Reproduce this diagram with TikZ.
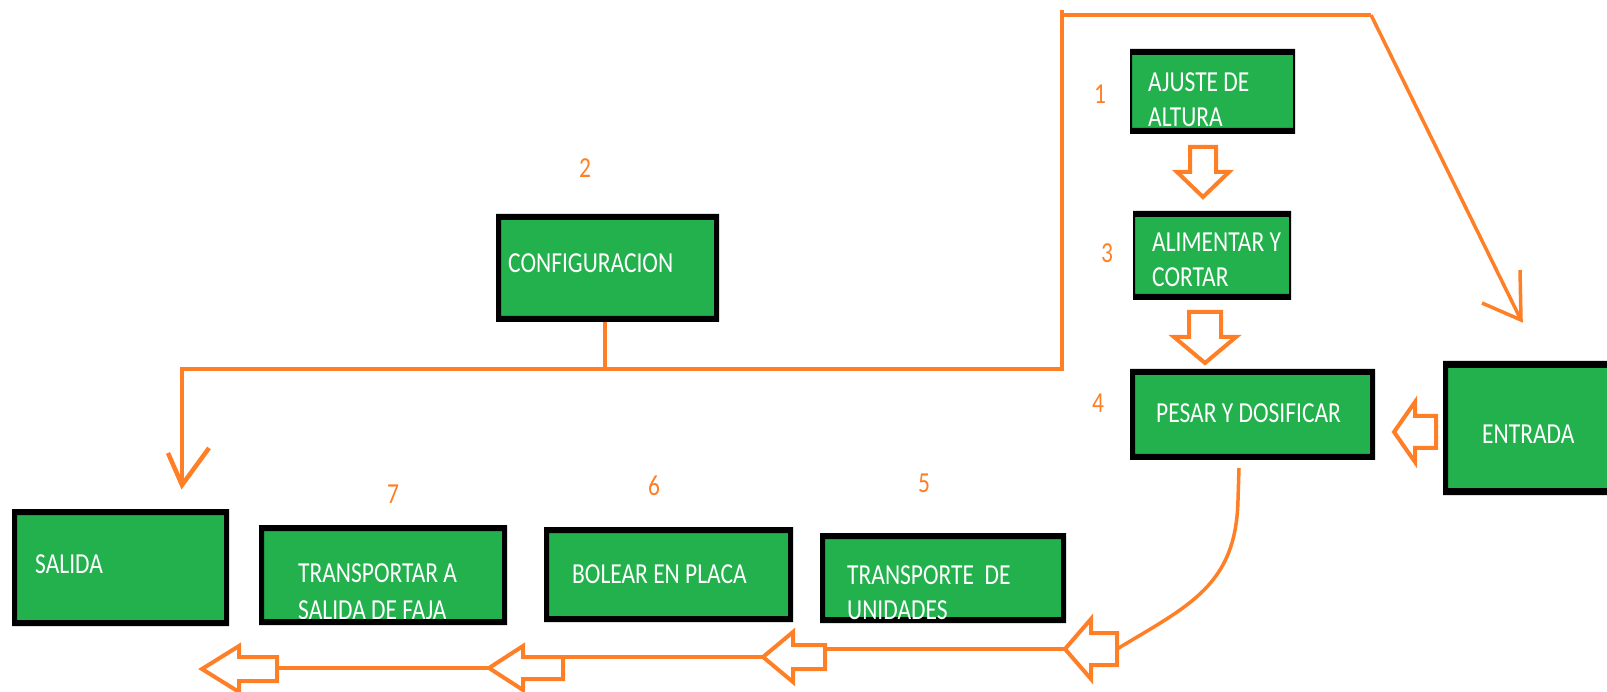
\documentclass[tikz,border=0pt]{standalone}
\usepackage{fontspec}
\setmainfont{Carlito}[FakeStretch=0.81]
\usetikzlibrary{calc}
\definecolor{pgreen}{RGB}{34,177,76}
\definecolor{porange}{RGB}{255,127,39}
\newcommand{\boxfont}{\fontsize{29}{35}\selectfont}
% hollow block arrows pointing left: name, tipx, tipy, headbase x, shaft end x, head half, shaft half
\newcommand{\hollowL}[7]{%
  \draw[hollow] (#2,#3) -- (#4,#3-#6) -- (#4,#3-#7) -- (#5,#3-#7) -- (#5,#3+#7) -- (#4,#3+#7) -- (#4,#3+#6) -- cycle;
  \coordinate (#1tip) at (#2,#3);
  \coordinate (#1end) at (#5,#3);}
% hollow block arrows pointing down: name, tipx, tipy, headbase y, shaft top y, head half, shaft half
\newcommand{\hollowD}[7]{%
  \draw[hollow] (#2,#3) -- (#2-#6,#4) -- (#2-#7,#4) -- (#2-#7,#5) -- (#2+#7,#5) -- (#2+#7,#4) -- (#2+#6,#4) -- cycle;
  \coordinate (#1tip) at (#2,#3);
  \coordinate (#1top) at (#2,#5);}
\newcommand{\greenbox}[5]{%
  \node[boxfill, minimum width={#4pt-#2pt}, minimum height={#5pt-#3pt}] (#1) at (#2,#3) {};}
\newcommand{\boxborder}[3]{%
  \fill[black, even odd rule] (#1.north west) rectangle (#1.south east)
    ($(#1.north west)+(#2,#3)$) rectangle ($(#1.south east)+(-#2,-#3)$);}
\begin{document}
\begin{tikzpicture}[x=1pt,y=-1pt,
  boxfill/.style={fill=pgreen, inner sep=0pt, outer sep=0pt, anchor=north west},
  boxtext/.style={text=white, inner sep=0pt, anchor=base west, align=left, font=\boxfont},
  num/.style={text=porange, inner sep=0pt, anchor=base, font=\boxfont},
  conn/.style={draw=porange, line width=4.5pt},
  diag/.style={draw=porange, line width=3.5pt},
  hollow/.style={draw=porange, fill=white, line width=4pt, line join=miter}]
\useasboundingbox (0,0) rectangle (1607,692);
\clip (0,0) rectangle (1607,692);
% box fills
\greenbox{ajuste}{1130}{49}{1295}{134}
\greenbox{alim}{1133}{211}{1291}{300}
\greenbox{pesar}{1130}{369}{1375}{460}
\greenbox{entrada}{1443}{361}{1625}{495}
\greenbox{config}{496}{214}{719}{322}
\greenbox{salida}{12}{509}{229}{626}
\greenbox{transp}{259}{525}{507}{625}
\greenbox{bolear}{544}{527}{793}{622}
\greenbox{unid}{820}{533}{1066}{623}
% texts (base anchor = baseline of the last line)
\node[boxtext] (tajuste) at (1148,127) {AJUSTE DE\\ALTURA};
\node[boxtext] (talim) at (1152,287) {ALIMENTAR Y\\CORTAR};
\node[boxtext] (tpesar) at (1156,423) {PESAR Y DOSIFICAR};
\node[boxtext] (tentrada) at (1482,443) {ENTRADA};
\node[boxtext] (tconfig) at (508,273) {CONFIGURACION};
\node[boxtext] (tsalida) at (35,573) {SALIDA};
\node[boxtext, font=\fontsize{29}{37}\selectfont] (ttransp) at (298,619) {TRANSPORTAR A\\SALIDA DE FAJA};
\node[boxtext] (tbolear) at (572,583) {BOLEAR EN PLACA};
% borders
\boxborder{ajuste}{2}{6}
\boxborder{alim}{2}{6}
\boxborder{pesar}{5}{6}
\boxborder{entrada}{5}{7}
\boxborder{config}{5}{6}
\boxborder{salida}{5}{6}
\boxborder{transp}{5}{6}
\boxborder{bolear}{5}{6}
\boxborder{unid}{5}{6}
% this text lies over its box border
\node[boxtext, font=\fontsize{29}{35}\selectfont] (tunid) at (847,619) {TRANSPORTE\ \ DE\\UNIDADES};
% step numbers
\node[num] (n1) at (1100,104) {1};
\node[num] (n2) at (585,178) {2};
\node[num] (n3) at (1107,263) {3};
\node[num] (n4) at (1098,413) {4};
\node[num] (n5) at (924,493) {5};
\node[num] (n6) at (654,495) {6};
\node[num] (n7) at (393,503) {7};
% hollow block arrows
\hollowD{aa}{1203}{197}{172}{147}{26}{13}
\hollowD{ab}{1205}{363}{337}{312}{31}{16}
\hollowL{ac}{1394}{432}{1415}{1436}{30}{16}
\hollowL{ad}{1065}{649}{1091}{1117}{30}{16}
\hollowL{ae}{763}{657}{793}{825}{25}{12}
\hollowL{af}{489}{668}{523}{563}{22}{11}
\hollowL{ag}{202}{669}{239}{277}{23}{12}
% connectors
\coordinate (jc) at (605,369);
\coordinate (lc) at (182,369);
\coordinate (saltip) at (182,485);
\coordinate (rc) at (1062,369);
\coordinate (rtop) at (1062,10);
\coordinate (topl) at (1060,15);
\coordinate (topr) at (1371,15);
\coordinate (enttip) at (1521,320);
\draw[conn] (config.south -| jc) -- (jc) -- (lc) -- (saltip);
\draw[conn] (168,453) -- (saltip) -- (209,448);
\draw[conn] (jc) -- (rc) -- (rtop);
\draw[conn] (topl) -- (topr);
\draw[diag] (topr) -- (enttip);
\draw[diag] (1482,303) -- (enttip) -- (1520,270);
\draw[conn] (adtip) -- (adtip -| aeend);
\draw[conn] (aetip) -- (aetip -| afend);
\draw[conn] (aftip) -- (aftip -| agend);
\coordinate (cs) at (1239,468);
\draw[diag] (cs) -- (1238,500) .. controls (1236,585) and (1190,605) .. (adend);
\end{tikzpicture}
\end{document}
